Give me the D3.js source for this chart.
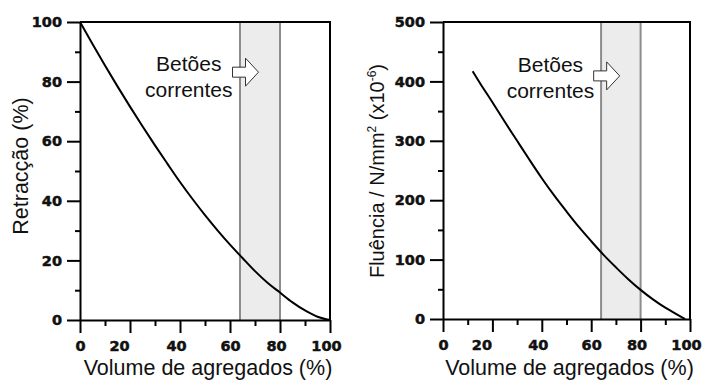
<!DOCTYPE html>
<html lang="pt">
<head>
<meta charset="utf-8">
<title>Retracção e fluência</title>
<script src="https://d3js.org/d3.v7.min.js"></script>
<style>
  body { margin: 0; background: #fff; }
  svg { display: block; }
  .tick text { font-family: "DejaVu Sans", sans-serif; font-weight: bold; font-size: 14.5px; fill: #111; stroke: #111; stroke-width: 0.5px; }
  .axis path, .axis line { stroke: #000; stroke-width: 2; }
  .title { font-family: "Liberation Sans", Arial, sans-serif; fill: #111; }
  .note { font-family: "Liberation Sans", Arial, sans-serif; font-size: 21px; fill: #111; text-anchor: middle; }
</style>
</head>
<body>
<div id="chart"></div>
<script>
// shrinkage (%) vs aggregate volume (%)
var retrX = [0, 5, 10, 15, 20, 25, 30, 35, 40, 45, 50, 55, 60, 65, 70, 75, 80, 85, 90, 95, 100];
var retrY = [100, 92.6, 85.4, 78.4, 71.6, 65, 58.6, 52.4, 46.3, 40.6, 35.2, 30.1, 25.3, 20.8, 16.4, 12.5, 9.2, 5.9, 3.2, 1.1, 0];

// creep (x10^-6 per N/mm2) vs aggregate volume (%)
var fluX = [12, 15, 20, 25, 30, 35, 40, 45, 50, 55, 60, 65, 70, 75, 80, 85, 90, 95, 98];
var fluY = [417, 397, 365, 332, 300, 268, 237, 208, 181, 155, 131, 108, 87, 67, 49, 33, 19, 7, 0];

// common concrete band
var band = [64, 80];

var xTicks = [0, 20, 40, 60, 80, 100];
var xMinor = [10, 30, 50, 70, 90];
var retrTicks = [0, 20, 40, 60, 80, 100];
var retrMinor = [10, 30, 50, 70, 90];
var fluTicks = [0, 100, 200, 300, 400, 500];
var fluMinor = [50, 150, 250, 350, 450];

var noteLines = ["Betões", "correntes"];

var W = 707, H = 380;
var svg = d3.select("#chart").append("svg").attr("width", W).attr("height", H);

function panel(o) {
  var x = d3.scaleLinear().domain([0, 100]).range([o.left, o.right]);
  var y = d3.scaleLinear().domain([0, o.ymax]).range([o.bottom, o.top]);
  var g = svg.append("g");

  // shaded band
  g.append("rect")
    .attr("x", x(band[0])).attr("y", y(o.ymax))
    .attr("width", x(band[1]) - x(band[0]))
    .attr("height", y(0) - y(o.ymax))
    .attr("fill", "#ececec");
  g.selectAll("line.band").data(band).enter().append("line")
    .attr("class", "band")
    .attr("x1", function(d) { return x(d); }).attr("x2", function(d) { return x(d); })
    .attr("y1", y(0)).attr("y2", y(o.ymax))
    .attr("stroke", "#8c8c8c").attr("stroke-width", 2);

  // frame: top and right
  g.append("path")
    .attr("d", "M" + x(0) + "," + y(o.ymax) + "H" + x(100) + "V" + y(0))
    .attr("fill", "none").attr("stroke", "#000").attr("stroke-width", 2);

  // axes
  g.append("g").attr("class", "axis")
    .attr("transform", "translate(0," + y(0) + ")")
    .call(d3.axisBottom(x).tickValues(xMinor).tickSize(6).tickFormat(""))
    .select(".domain").remove();
  var xa = g.append("g").attr("class", "axis")
    .attr("transform", "translate(0," + y(0) + ")")
    .call(d3.axisBottom(x).tickValues(xTicks).tickSize(13).tickSizeOuter(0).tickPadding(8));
  xa.selectAll(".tick text").attr("dx", function(d) { return d === 20 ? -11 : (d === 0 || d === 60 ? 0 : -4); });

  g.append("g").attr("class", "axis")
    .attr("transform", "translate(" + x(0) + ",0)")
    .call(d3.axisLeft(y).tickValues(o.minor).tickSize(5).tickFormat(""))
    .select(".domain").remove();
  g.append("g").attr("class", "axis")
    .attr("transform", "translate(" + x(0) + ",0)")
    .call(d3.axisLeft(y).tickValues(o.ticks).tickSize(13).tickSizeOuter(0).tickPadding(5));

  // curve
  var line = d3.line()
    .x(function(d) { return x(d[0]); })
    .y(function(d) { return y(d[1]); })
    .curve(d3.curveMonotoneX);
  g.append("path")
    .datum(d3.zip(o.xs, o.ys))
    .attr("d", line)
    .attr("fill", "none").attr("stroke", "#000").attr("stroke-width", 2);

  // annotation
  var ny = y(o.noteY);
  g.selectAll("text.note").data(noteLines).enter().append("text")
    .attr("class", "note")
    .attr("x", x(43.5))
    .attr("y", function(d, i) { return ny + i * 26; })
    .text(function(d) { return d; });
  var ax = x(61), ay = ny + o.arrowDy;
  g.append("path")
    .attr("d", "M" + ax + "," + (ay - 5) + "h13v-9l13,14l-13,14v-9h-13z")
    .attr("fill", "#fff").attr("stroke", "#333").attr("stroke-width", 1);

  // titles
  g.append("text").attr("class", "title")
    .attr("x", (o.left + o.right) / 2 + 3).attr("y", 375)
    .attr("text-anchor", "middle").style("font-size", "21.5px")
    .text("Volume de agregados (%)");
  var yt = g.append("text").attr("class", "title")
    .attr("transform", "translate(" + o.ytx + "," + o.yty + ") rotate(-90)")
    .attr("text-anchor", "middle").style("font-size", o.yfs + "px");
  o.ytitle(yt);
}

panel({
  left: 80, right: 330, top: 22, bottom: 320, ymax: 100,
  ticks: retrTicks, minor: retrMinor, xs: retrX, ys: retrY,
  noteY: 83.5, arrowDy: 1, ytx: 28, yty: 166, yfs: 21.5,
  ytitle: function(t) { t.text("Retracção (%)"); }
});

panel({
  left: 443, right: 690, top: 22, bottom: 319, ymax: 500,
  ticks: fluTicks, minor: fluMinor, xs: fluX, ys: fluY,
  noteY: 416, arrowDy: 4, ytx: 384, yty: 171, yfs: 20,
  ytitle: function(t) {
    t.append("tspan").text("Fluência / N/mm");
    t.append("tspan").attr("dy", -8).style("font-size", "12px").text("2");
    t.append("tspan").attr("dy", 8).text(" (x10");
    t.append("tspan").attr("dy", -8).style("font-size", "12px").text("-6");
    t.append("tspan").attr("dy", 8).text(")");
  }
});
</script>
</body>
</html>
